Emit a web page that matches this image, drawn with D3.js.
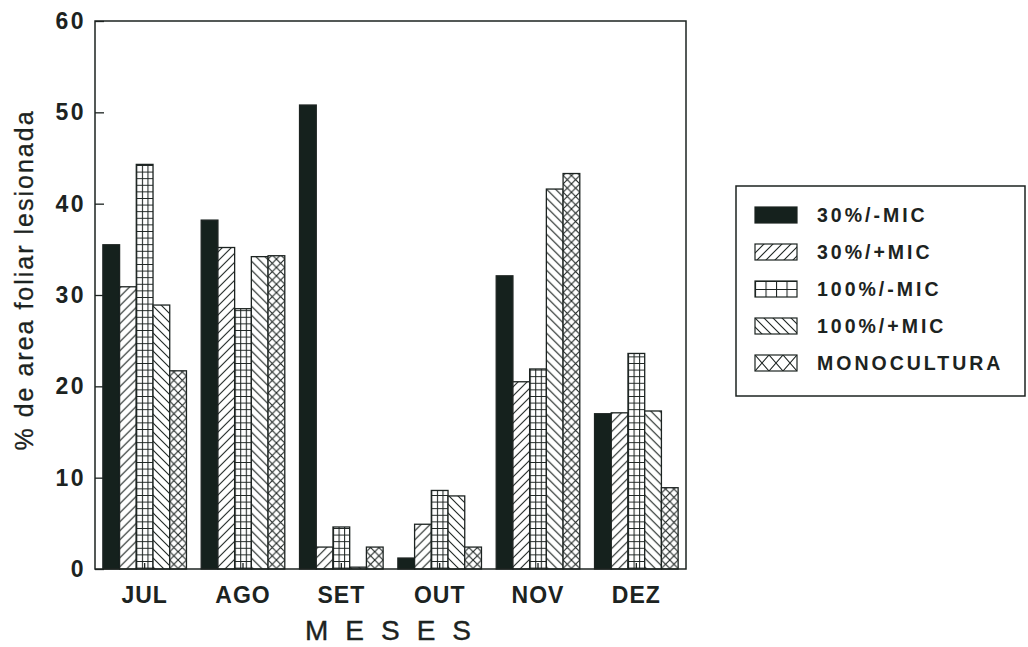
<!DOCTYPE html>
<html>
<head>
<meta charset="utf-8">
<script src="https://cdn.jsdelivr.net/npm/d3@7"></script>
<style>
  html, body { margin: 0; padding: 0; background: #fff; }
  svg { display: block; }
  text { font-family: "Liberation Sans", Arial, Helvetica, sans-serif; fill: #1c2321; }
</style>
</head>
<body>
<svg id="chart" width="1028" height="647"></svg>
<script>
// Months on the x axis
const months = ["JUL", "AGO", "SET", "OUT", "NOV", "DEZ"];
// Treatments (legend order)
const series = ["30%/-MIC", "30%/+MIC", "100%/-MIC", "100%/+MIC", "MONOCULTURA"];
// % de área foliar lesionada, one array per treatment, in month order
const s30menos   = [35.5, 38.2, 50.8, 1.2, 32.1, 17.0];
const s30mais    = [30.9, 35.2,  2.4, 4.9, 20.5, 17.1];
const s100menos  = [44.3, 28.5,  4.6, 8.6, 21.9, 23.6];
const s100mais   = [28.9, 34.2,  0.2, 8.0, 41.6, 17.3];
const monocult   = [21.7, 34.3,  2.4, 2.4, 43.3,  8.9];
const values = [s30menos, s30mais, s100menos, s100mais, monocult];
// Y axis ticks
const yTicks = [0, 10, 20, 30, 40, 50, 60];

const INK = "#1c2321";
const svg = d3.select("#chart");

const plotL = 95, plotR = 686, plotT = 21, plotB = 569;

const y = d3.scaleLinear().domain([0, 60]).range([plotB, plotT]);
const x0 = d3.scaleBand().domain(months).range([plotL, plotR])
  .paddingInner(0.15).paddingOuter(0.08);
const x1 = d3.scaleBand().domain(series).range([0, x0.bandwidth()]);
const bw = x1.bandwidth();

// ---- fill patterns (tile origin = each bar's left edge) ----
const defs = svg.append("defs");
function addPattern(id, w, h, d, sw) {
  const p = defs.append("pattern").attr("id", id)
    .attr("patternUnits", "userSpaceOnUse")
    .attr("width", w).attr("height", h);
  p.append("rect").attr("width", w).attr("height", h).attr("fill", "#fff");
  p.append("path").attr("d", d).attr("stroke", INK)
    .attr("stroke-width", sw).attr("fill", "none");
}
function hatchFwd(id, s) {
  addPattern(id, s, s, `M0,${s} L${s},0 M-2,2 L2,-2 M${s-2},${s+2} L${s+2},${s-2}`, 1.1);
}
function hatchBack(id, s) {
  addPattern(id, s, s, `M0,0 L${s},${s} M-2,${s-2} L2,${s+2} M${s-2},-2 L${s+2},2`, 1.1);
}
function grid(id, w, h) {
  addPattern(id, w, h, `M0.5,0 L0.5,${h} M0,0.5 L${w},0.5`, 1.1);
}
function cross(id, w, h) {
  addPattern(id, w, h, `M0,0 L${w},${h} M0,${h} L${w},0`, 1.1);
}
hatchFwd("p-fwd", 9);
hatchBack("p-back", 9);
grid("p-grid", bw / 3, 6.6);
cross("p-cross", bw / 2, bw / 2);
// legend swatches use a coarser grid / lattice
grid("pl-grid", 10.5, 8);
cross("pl-cross", 14, 16);

const fills = ["#15211d", "url(#p-fwd)", "url(#p-grid)", "url(#p-back)", "url(#p-cross)"];
const legendFills = ["#15211d", "url(#p-fwd)", "url(#pl-grid)", "url(#p-back)", "url(#pl-cross)"];

// ---- y axis (ticks point inward) ----
const yAxis = d3.axisLeft(y).tickValues(yTicks).tickSize(-9).tickPadding(9);
const gy = svg.append("g").attr("transform", `translate(${plotL},0)`).call(yAxis);
gy.select(".domain").remove();
gy.selectAll(".tick line").attr("stroke", INK).attr("stroke-width", 1.3);
gy.selectAll(".tick text")
  .style("font-size", "23px").style("font-weight", "bold")
  .style("letter-spacing", "2.5px").attr("fill", INK);

// ---- bars ----
const rows = [];
months.forEach((m, i) => series.forEach((s, k) => rows.push({ m, s, k, v: values[k][i] })));

svg.append("g").selectAll("g.bar").data(rows).join("g")
  .attr("class", "bar")
  .attr("transform", d => `translate(${x0(d.m) + x1(d.s)},0)`)
  .append("rect")
  .attr("x", 0)
  .attr("y", d => y(d.v))
  .attr("width", bw)
  .attr("height", d => y(0) - y(d.v))
  .attr("fill", d => fills[d.k])
  .attr("stroke", INK)
  .attr("stroke-width", 1.3);

// ---- x axis (short inward ticks at group centres) ----
const xAxis = d3.axisBottom(x0).tickSize(-6).tickPadding(18);
const gx = svg.append("g").attr("transform", `translate(0,${plotB})`).call(xAxis);
gx.select(".domain").remove();
gx.selectAll(".tick line").attr("stroke", INK).attr("stroke-width", 1.3);
gx.selectAll(".tick text")
  .style("font-size", "23px").style("font-weight", "bold")
  .style("letter-spacing", "1px").attr("fill", INK);

// ---- plot frame ----
svg.append("rect")
  .attr("x", plotL).attr("y", plotT)
  .attr("width", plotR - plotL).attr("height", plotB - plotT)
  .attr("fill", "none").attr("stroke", INK).attr("stroke-width", 1.5);

// ---- axis titles ----
svg.append("text")
  .attr("x", 305).attr("y", 640)
  .style("font-size", "28px").style("letter-spacing", "17px")
  .attr("stroke", INK).attr("stroke-width", 0.4)
  .text("MESES");

svg.append("text")
  .attr("transform", "translate(33,280) rotate(-90)")
  .attr("text-anchor", "middle")
  .style("font-size", "25px").style("letter-spacing", "2px")
  .attr("stroke", INK).attr("stroke-width", 0.3)
  .text("% de area foliar lesionada");

// ---- legend ----
const lg = svg.append("g");
lg.append("rect")
  .attr("x", 736).attr("y", 186).attr("width", 289).attr("height", 210)
  .attr("fill", "#fff").attr("stroke", INK).attr("stroke-width", 1.5);

const legendY = d3.scalePoint().domain(series).range([215, 363]);
const items = lg.selectAll("g.item").data(series).join("g")
  .attr("class", "item")
  .attr("transform", d => `translate(755,${legendY(d) - 8})`);
items.append("rect")
  .attr("width", 42).attr("height", 16)
  .attr("fill", (d, i) => legendFills[i])
  .attr("stroke", INK).attr("stroke-width", 1.2);
items.append("text")
  .attr("x", 62).attr("y", 15)
  .style("font-size", "19.5px").style("font-weight", "bold")
  .style("letter-spacing", "3px")
  .text(d => d);
</script>
</body>
</html>
